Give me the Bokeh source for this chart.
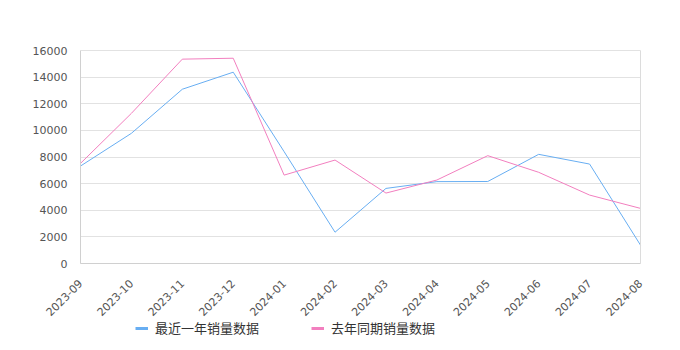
import math
from bokeh.plotting import figure
from bokeh.models import Range1d, FixedTicker, Legend, LegendItem, LinearAxis
from bokeh.embed import file_html
from bokeh.resources import INLINE

months = ["2023-09", "2023-10", "2023-11", "2023-12", "2024-01", "2024-02",
          "2024-03", "2024-04", "2024-05", "2024-06", "2024-07", "2024-08"]
recent = [7320, 9780, 13090, 14370, 8400, 2350, 5640, 6150, 6160, 8200, 7470, 1380]
last_year = [7520, 11280, 15350, 15420, 6640, 7770, 5290, 6270, 8100, 6850, 5140, 4140]
y_ticks = [0, 2000, 4000, 6000, 8000, 10000, 12000, 14000, 16000]
series_names = ["最近一年销量数据", "去年同期销量数据"]

BLUE = "#68aef2"
PINK = "#f27fbf"

# page geometry (pixels)
W, H = 680, 350
X0_PX, X1_PX = 80, 640     # columns of first / last month
ZERO_PX, MAX_PX = 263, 50  # rows of value 0 / top tick

xs = list(range(len(months)))
x_first, x_last = xs[0], xs[-1]
x_per_px = (x_last - x_first) / (X1_PX - X0_PX)
x_lo = x_first - X0_PX * x_per_px
x_hi = x_last + (W - X1_PX) * x_per_px

y_min, y_max = y_ticks[0], y_ticks[-1]
y_per_px = (y_max - y_min) / (ZERO_PX - MAX_PX)
y_lo = y_min - (H - ZERO_PX) * y_per_px
y_hi = y_max + MAX_PX * y_per_px

p = figure(width=W, height=H, output_backend="svg", toolbar_location=None,
           x_range=Range1d(x_lo, x_hi), y_range=Range1d(y_lo, y_hi),
           min_border=0)
p.background_fill_color = "white"
p.border_fill_color = "white"
p.outline_line_color = None

r1 = p.line(xs, recent, line_color=BLUE, line_width=1)
r2 = p.line(xs, last_year, line_color=PINK, line_width=1)
# legend-only keys (thicker lines, nothing drawn in the plot)
k1 = p.line([x_first], [float("nan")], line_color=BLUE, line_width=3)
k2 = p.line([x_first], [float("nan")], line_color=PINK, line_width=3)

p.xaxis.ticker = FixedTicker(ticks=xs)
p.xaxis.major_label_overrides = {i: m for i, m in enumerate(months)}
p.xaxis.major_label_orientation = math.pi / 4
p.xaxis.fixed_location = y_min
p.xaxis.bounds = (x_first, x_last)
p.yaxis.ticker = FixedTicker(ticks=y_ticks)
p.yaxis.fixed_location = x_first
p.yaxis.bounds = (y_min, y_max)

for ax in (p.xaxis[0], p.yaxis[0]):
    ax.axis_line_color = "#d0d0d0"
    ax.major_tick_line_color = None
    ax.minor_tick_line_color = None
    ax.major_label_text_font = "DejaVu Sans"
    ax.major_label_text_font_size = "11px"
    ax.major_label_text_color = "#555555"
p.xaxis.major_label_standoff = 12
p.yaxis.major_label_standoff = 7

# right-hand frame edge
right_edge = LinearAxis(ticker=FixedTicker(ticks=[]), bounds=(y_min, y_max),
                        fixed_location=x_last,
                        axis_line_color="#dcdcdc", major_tick_line_color=None,
                        minor_tick_line_color=None)
p.add_layout(right_edge, "right")

p.xgrid.grid_line_color = None
p.ygrid.grid_line_color = "#e2e2e2"
p.ygrid.bounds = (y_min, y_max)
p.ygrid.cross_bounds = (x_first, x_last)

legend = Legend(items=[LegendItem(label=series_names[0], renderers=[k1]),
                       LegendItem(label=series_names[1], renderers=[k2])],
                orientation="horizontal", location=(135, 13),
                label_text_font="Noto Sans CJK SC", label_text_font_size="13px",
                label_text_color="#333333", glyph_width=13, glyph_height=14,
                label_standoff=7, spacing=52, border_line_color=None,
                background_fill_alpha=0, padding=0, margin=0)
p.add_layout(legend, "center")

open("out.html", "w").write(file_html(p, INLINE))
